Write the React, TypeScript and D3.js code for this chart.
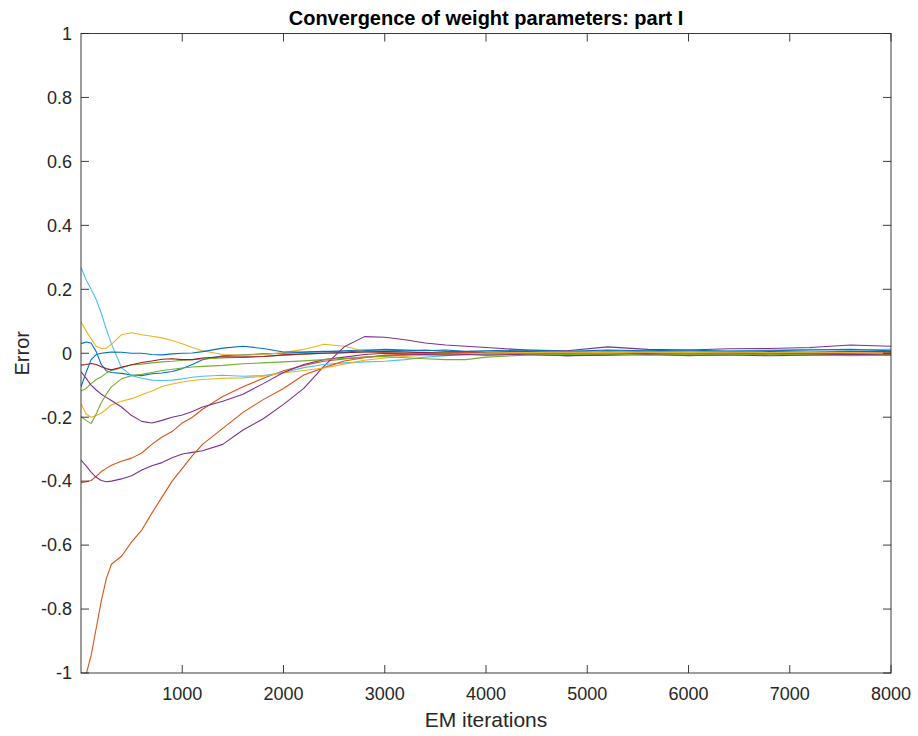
import React from 'react';
import * as d3 from 'd3';

const ITER = [1, 50, 100, 150, 200, 250, 300, 400, 500, 600, 700, 800, 900, 1000, 1100, 1200, 1400, 1600, 1800, 2000, 2200, 2400, 2600, 2800, 3000, 3200, 3400, 3600, 3800, 4000, 4400, 4800, 5200, 5600, 6000, 6400, 6800, 7200, 7600, 8000];

const blueA = [0.030, 0.035, 0.032, 0.005, -0.035, -0.055, -0.060, -0.063, -0.068, -0.070, -0.064, -0.062, -0.057, -0.048, -0.035, -0.020, -0.008, -0.005, -0.002, 0.000, 0.003, 0.005, 0.008, 0.010, 0.010, 0.008, 0.010, 0.006, 0.005, 0.004, 0.006, 0.004, 0.008, 0.005, 0.006, 0.003, 0.005, 0.004, 0.006, 0.005];
const orangeA = [-0.405, -0.402, -0.398, -0.385, -0.370, -0.360, -0.350, -0.338, -0.328, -0.312, -0.285, -0.262, -0.245, -0.218, -0.200, -0.175, -0.135, -0.105, -0.078, -0.055, -0.038, -0.025, -0.018, -0.012, -0.008, -0.006, -0.004, -0.003, 0.000, -0.002, 0.000, -0.003, -0.001, 0.000, -0.002, 0.001, -0.001, 0.000, -0.002, -0.003];
const yellowA = [0.098, 0.070, 0.045, 0.022, 0.015, 0.016, 0.028, 0.058, 0.064, 0.058, 0.053, 0.048, 0.040, 0.030, 0.018, 0.008, -0.004, -0.006, -0.004, 0.002, 0.012, 0.028, 0.022, 0.006, 0.002, 0.000, -0.002, 0.000, -0.003, -0.002, -0.004, -0.003, -0.006, -0.004, -0.005, -0.006, -0.004, -0.007, -0.005, -0.006];
const purpleA = [-0.334, -0.352, -0.372, -0.388, -0.398, -0.402, -0.400, -0.393, -0.383, -0.365, -0.352, -0.342, -0.327, -0.315, -0.310, -0.305, -0.285, -0.240, -0.205, -0.160, -0.110, -0.040, 0.020, 0.052, 0.050, 0.042, 0.032, 0.026, 0.022, 0.018, 0.010, 0.008, 0.020, 0.012, 0.010, 0.014, 0.015, 0.018, 0.026, 0.022];
const greenA = [-0.118, -0.110, -0.095, -0.082, -0.074, -0.062, -0.054, -0.045, -0.036, -0.034, -0.030, -0.027, -0.025, -0.022, -0.020, -0.018, -0.015, -0.012, -0.010, -0.006, -0.003, 0.000, 0.002, 0.004, 0.006, 0.004, 0.002, 0.003, 0.000, 0.002, 0.000, 0.001, -0.002, 0.000, -0.001, -0.003, -0.002, -0.004, -0.006, -0.003];
const lightBlue = [0.268, 0.230, 0.200, 0.168, 0.125, 0.075, 0.030, -0.045, -0.070, -0.078, -0.084, -0.085, -0.084, -0.080, -0.075, -0.072, -0.069, -0.072, -0.070, -0.060, -0.045, -0.035, -0.030, -0.027, -0.025, -0.020, -0.012, -0.008, -0.004, -0.002, 0.002, 0.004, 0.006, 0.008, 0.006, 0.008, 0.010, 0.012, 0.010, 0.012];
const darkRed = [-0.037, -0.035, -0.032, -0.035, -0.042, -0.048, -0.052, -0.044, -0.036, -0.029, -0.024, -0.019, -0.017, -0.020, -0.020, -0.015, -0.011, -0.012, -0.010, -0.005, -0.002, 0.000, 0.002, 0.004, 0.005, 0.004, 0.002, 0.000, 0.002, 0.000, -0.004, -0.008, -0.004, -0.002, -0.008, -0.004, -0.002, -0.004, -0.002, -0.003];
const blueB = [-0.105, -0.060, -0.020, -0.004, 0.000, 0.002, 0.004, 0.003, 0.000, 0.000, -0.004, -0.005, -0.002, 0.000, 0.001, 0.005, 0.016, 0.022, 0.015, 0.004, 0.004, 0.006, 0.004, 0.008, 0.012, 0.010, 0.008, 0.010, 0.006, 0.008, 0.010, 0.006, 0.010, 0.008, 0.010, 0.006, 0.008, 0.010, 0.012, 0.008];
const orangeB = [-1.060, -1.005, -0.945, -0.860, -0.775, -0.705, -0.660, -0.635, -0.590, -0.553, -0.500, -0.450, -0.400, -0.360, -0.320, -0.285, -0.235, -0.185, -0.145, -0.110, -0.068, -0.045, -0.024, -0.014, -0.006, -0.004, -0.002, 0.000, 0.002, 0.000, 0.002, 0.000, 0.003, 0.001, 0.000, 0.002, 0.000, 0.001, 0.000, 0.002];
const purpleB = [-0.158, -0.190, -0.200, -0.195, -0.188, -0.175, -0.162, -0.150, -0.142, -0.130, -0.118, -0.104, -0.096, -0.090, -0.085, -0.082, -0.078, -0.077, -0.072, -0.062, -0.054, -0.046, -0.034, -0.022, -0.015, -0.010, -0.006, -0.004, -0.002, 0.000, 0.002, 0.004, 0.002, 0.004, 0.002, 0.004, 0.002, 0.004, 0.002, 0.000];
const yellowB = [-0.058, -0.078, -0.100, -0.115, -0.128, -0.138, -0.148, -0.168, -0.195, -0.213, -0.218, -0.210, -0.200, -0.193, -0.182, -0.168, -0.150, -0.128, -0.095, -0.060, -0.035, -0.020, -0.012, -0.004, 0.000, -0.002, -0.004, -0.006, -0.004, -0.006, -0.004, -0.008, -0.006, -0.004, -0.007, -0.005, -0.008, -0.006, -0.004, -0.006];
const greenB = [-0.198, -0.210, -0.220, -0.190, -0.155, -0.128, -0.105, -0.080, -0.070, -0.066, -0.060, -0.054, -0.050, -0.046, -0.043, -0.041, -0.038, -0.033, -0.030, -0.027, -0.024, -0.020, -0.016, -0.012, -0.010, -0.014, -0.017, -0.020, -0.020, -0.012, -0.006, -0.004, -0.002, -0.006, -0.004, -0.005, -0.003, -0.005, -0.008, -0.006];

const SERIES = [blueA, orangeA, yellowA, purpleA, greenA, lightBlue, darkRed, blueB, orangeB, purpleB, yellowB, greenB];
const COLORS = ['#0072BD', '#D95319', '#EDB120', '#7E2F8E', '#77AC30', '#4DBEEE', '#A2142F'];

const X_TICKS = [1000, 2000, 3000, 4000, 5000, 6000, 7000, 8000];
const Y_TICKS = [-1, -0.8, -0.6, -0.4, -0.2, 0, 0.2, 0.4, 0.6, 0.8, 1];

const TITLE = 'Convergence of weight parameters: part I';
const X_LABEL = 'EM iterations';
const Y_LABEL = 'Error';

export default function App() {
  const W = 918, H = 736;
  const L = 81, R = 891, T = 33.5, B = 673;
  const x = d3.scaleLinear().domain([0, 8000]).range([L, R]);
  const y = d3.scaleLinear().domain([-1, 1]).range([B, T]);
  const line = d3.line<number>().x((_, i) => x(ITER[i])).y(d => y(d));
  const axisColor = '#262626';
  const font = "'Liberation Sans', Arial, Helvetica, sans-serif";
  const tl = 8;
  const fmt = (v: number) => (Math.abs(v) < 1e-9 ? '0' : String(Math.round(v * 10) / 10));

  return (
    <svg width={W} height={H} style={{ position: 'absolute', left: 0, top: 0, background: '#fff' }} fontFamily={font}>
      <defs>
        <clipPath id="plotclip">
          <rect x={L} y={T} width={R - L} height={B - T} />
        </clipPath>
      </defs>
      <rect x={0} y={0} width={W} height={H} fill="#fff" />
      <g clipPath="url(#plotclip)">
        {SERIES.map((s, i) => (
          <path key={i} d={line(s) || ''} fill="none" stroke={COLORS[i % COLORS.length]} strokeWidth={1.1} strokeLinejoin="round" />
        ))}
      </g>
      <rect x={L} y={T} width={R - L} height={B - T} fill="none" stroke={axisColor} strokeWidth={0.9} />
      {X_TICKS.map(t => (
        <g key={'x' + t}>
          <line x1={x(t)} x2={x(t)} y1={B} y2={B - tl} stroke={axisColor} strokeWidth={0.9} />
          <line x1={x(t)} x2={x(t)} y1={T} y2={T + tl} stroke={axisColor} strokeWidth={0.9} />
          <text x={x(t)} y={700} textAnchor="middle" fontSize={18} fill={axisColor}>{t}</text>
        </g>
      ))}
      {Y_TICKS.map(t => (
        <g key={'y' + t}>
          <line x1={L} x2={L + tl} y1={y(t)} y2={y(t)} stroke={axisColor} strokeWidth={0.9} />
          <line x1={R} x2={R - tl} y1={y(t)} y2={y(t)} stroke={axisColor} strokeWidth={0.9} />
          <text x={72} y={y(t)} dy="0.35em" textAnchor="end" fontSize={18} fill={axisColor}>{fmt(t)}</text>
        </g>
      ))}
      <text x={(L + R) / 2} y={25} textAnchor="middle" fontSize={20} fontWeight="bold" fill="#000">{TITLE}</text>
      <text x={(L + R) / 2} y={727} textAnchor="middle" fontSize={21} fill={axisColor}>{X_LABEL}</text>
      <text transform={`translate(29, ${(T + B) / 2}) rotate(-90)`} textAnchor="middle" fontSize={20} fill={axisColor}>{Y_LABEL}</text>
    </svg>
  );
}
